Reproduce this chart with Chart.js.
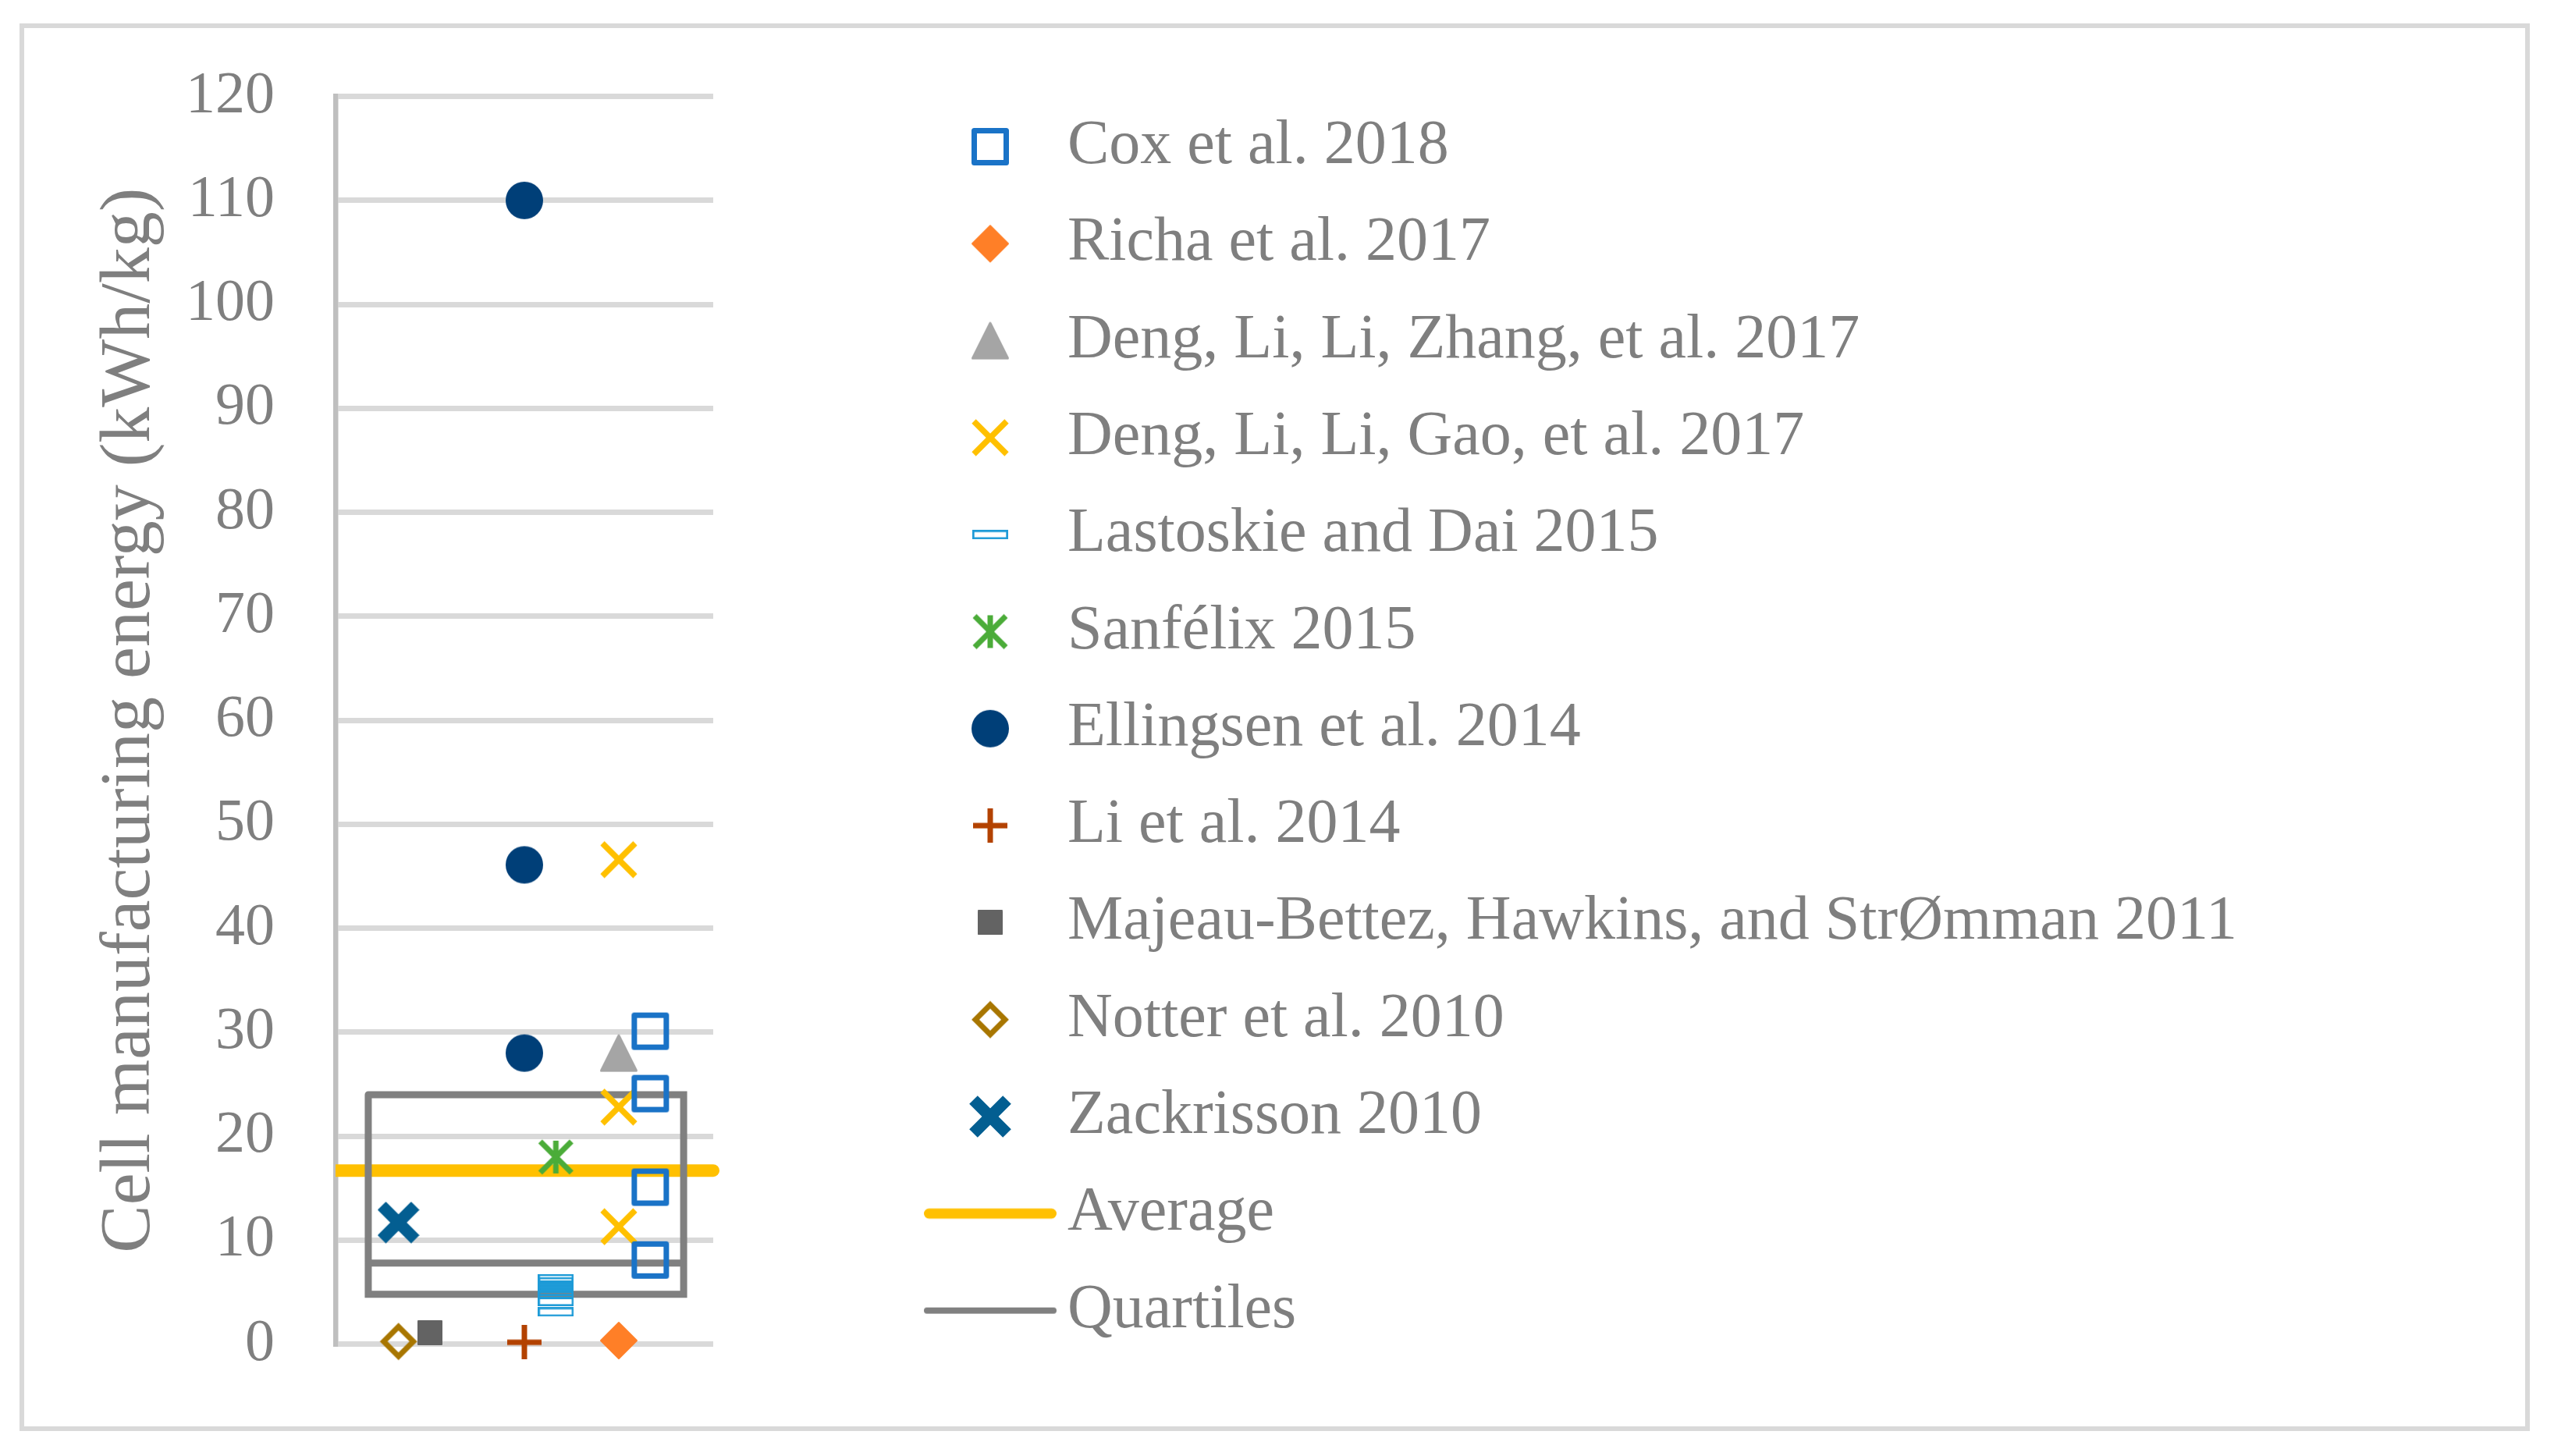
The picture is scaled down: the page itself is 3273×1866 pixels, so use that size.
<!DOCTYPE html>
<html><head><meta charset="utf-8">
<script src="https://cdn.jsdelivr.net/npm/chart.js@4.4.1/dist/chart.umd.min.js"></script>
<style>
html,body{margin:0;padding:0;background:#fff;width:3273px;height:1866px;overflow:hidden;}
#frame{position:absolute;left:24.7px;top:30.3px;width:3217.5px;height:1804.2px;border:6px solid #d9d9d9;box-sizing:border-box;}
#c{position:absolute;left:0;top:0;}
</style></head><body>
<div id="frame"></div>
<canvas id="c" width="3273" height="1866"></canvas>
<script>
// ---------- DATA ----------
const seriesLabels = ['Cox et al. 2018','Richa et al. 2017','Deng, Li, Li, Zhang, et al. 2017','Deng, Li, Li, Gao, et al. 2017','Lastoskie and Dai 2015','Sanfélix 2015','Ellingsen et al. 2014','Li et al. 2014','Majeau-Bettez, Hawkins, and StrØmman 2011','Notter et al. 2010','Zackrisson 2010'];
const seriesX = [5, 4.5, 4.5, 4.5, 3.5, 3.5, 3, 3, 1.5, 1, 1];
const coxValues = [30.1, 24.1, 15.1, 8.1];
const richaValues = [0.35];
const dengZhangValues = [28];
const dengGaoValues = [46.6, 22.8, 11.3];
const lastoskieValues = [6.3, 6.0, 5.7, 5.4, 5.1, 4.8, 4.1, 3.1];
const sanfelixValues = [18];
const ellingsenValues = [110, 46.1, 28];
const liValues = [0.18];
const majeauValues = [1.1];
const notterValues = [0.26];
const zackrissonValues = [11.7];
const averageValue = 16.7;
const averageX = [0, 6];
const quartileValues = [4.8, 7.8, 24.0]; // Q1, median, Q3
const quartileX = [0.52, 5.53];
const yTicks = {min: 0, max: 120, step: 10};
const yTitle = 'Cell manufacturing energy (kWh/kg)';

// ---------- STYLE ----------
const FAMILY = "'Liberation Serif', serif";
const TEXT = '#7f7f7f';
const colors = ['#1a73c7','#ff7f27','#a5a5a5','#ffc000','#1e9bd7','#4bac39','#003f78','#b34200','#636363','#a87600','#035e91'];

function mk(w, h, draw) {
  const c = document.createElement('canvas'); c.width = w; c.height = h;
  const g = c.getContext('2d'); draw(g); return c;
}
function line(g, a, b, c2, d) { g.beginPath(); g.moveTo(a, b); g.lineTo(c2, d); g.stroke(); }
const markerImgs = [
  mk(50, 50, g => { g.strokeStyle = colors[0]; g.lineWidth = 7; g.lineJoin = 'round'; g.strokeRect(4.5, 4.5, 41, 41); }),
  mk(50, 50, g => { g.fillStyle = g.strokeStyle = colors[1]; g.lineWidth = 2; g.lineJoin = 'round';
    g.beginPath(); g.moveTo(25, 2); g.lineTo(48, 25); g.lineTo(25, 48); g.lineTo(2, 25); g.closePath(); g.fill(); g.stroke(); }),
  mk(50, 50, g => { g.fillStyle = g.strokeStyle = colors[2]; g.lineWidth = 3; g.lineJoin = 'round';
    g.beginPath(); g.moveTo(25, 2.5); g.lineTo(47.5, 47.5); g.lineTo(2.5, 47.5); g.closePath(); g.fill(); g.stroke(); }),
  mk(50, 50, g => { g.strokeStyle = colors[3]; g.lineWidth = 7.5; g.lineCap = 'butt';
    line(g, 4, 4, 46, 46); line(g, 46, 4, 4, 46); }),
  mk(46, 12, g => { g.strokeStyle = colors[4]; g.lineWidth = 2.7; g.strokeRect(1.35, 1.35, 43.3, 9.3); }),
  mk(48, 48, g => { g.strokeStyle = colors[5]; g.lineWidth = 7; g.lineCap = 'butt';
    line(g, 24, 3, 24, 45); line(g, 4, 4, 44, 44); line(g, 44, 4, 4, 44); }),
  mk(50, 50, g => { g.fillStyle = colors[6]; g.beginPath(); g.arc(25, 25, 24, 0, Math.PI * 2); g.fill(); }),
  mk(44, 44, g => { g.strokeStyle = colors[7]; g.lineWidth = 7; line(g, 22, 0, 22, 44); line(g, 0, 22, 44, 22); }),
  mk(32, 32, g => { g.fillStyle = g.strokeStyle = colors[8]; g.lineWidth = 2; g.lineJoin = 'round'; g.fillRect(1, 1, 30, 30); g.strokeRect(1, 1, 30, 30); }),
  mk(50, 50, g => { g.strokeStyle = colors[9]; g.lineWidth = 7; g.lineJoin = 'miter';
    g.beginPath(); g.moveTo(25, 6); g.lineTo(44, 25); g.lineTo(25, 44); g.lineTo(6, 25); g.closePath(); g.stroke(); }),
  mk(54, 54, g => { g.strokeStyle = colors[10]; g.lineWidth = 15; g.lineCap = 'butt';
    line(g, 5.5, 5.5, 48.5, 48.5); line(g, 48.5, 5.5, 5.5, 48.5); })
];
const avgLegendImg = mk(172, 16, g => { g.strokeStyle = '#ffc000'; g.lineWidth = 13; g.lineCap = 'round'; line(g, 7.5, 8, 164.5, 8); });
const quartLegendImg = mk(172, 10, g => { g.strokeStyle = '#808080'; g.lineWidth = 8; g.lineCap = 'round'; line(g, 5, 5, 167, 5); });

// ---------- LAYOUT NUMBERS ----------
const W = 3273, H = 1866;
const AREA_LEFT = 430, AREA_RIGHT = 914, AREA_TOP = 122.7, AREA_BOTTOM = 1722.7;
const LEG_FS = 80, ROW = 124.3, LP = ROW - LEG_FS, BOXW = 198 - LEG_FS;
const MARK_X = 1269, FIRST_ROW_Y = 188;
const PT = FIRST_ROW_Y - LP - LEG_FS / 2, PB = 40;
const HT = AREA_TOP - PT, HB = H - PB - AREA_BOTTOM;
const LEG_LEFT = MARK_X - LP - BOXW / 2;
const GAP = LEG_LEFT - AREA_RIGHT;
const TITLE_FS = 92, TITLE_X = 167;
const TICK_FS = 76;
const L = TITLE_X - TITLE_FS * 1.2 / 2;
const meas = document.createElement('canvas').getContext('2d');
meas.font = 'normal ' + LEG_FS + 'px ' + FAMILY;
const allLabels = seriesLabels.concat(['Average', 'Quartiles']);
const maxText = Math.max(...allLabels.map(t => meas.measureText(t).width));
const legendW = LP + BOXW + LEG_FS / 2 + maxText + 10;
const PR = Math.max(0, W - AREA_RIGHT - GAP - legendW);

// ---------- DATASETS ----------
const valueLists = [coxValues, richaValues, dengZhangValues, dengGaoValues, lastoskieValues, sanfelixValues, ellingsenValues, liValues, majeauValues, notterValues, zackrissonValues];
const datasets = valueLists.map((vals, i) => ({
  label: seriesLabels[i],
  data: vals.map(v => ({x: seriesX[i], y: v})),
  pointStyle: markerImgs[i], pointRadius: 10, pointHoverRadius: 10,
  showLine: false, clip: false, order: 0, xAxisID: 'x', yAxisID: 'y'
}));
datasets.push({
  label: 'Average',
  data: averageX.map(x => ({x: x, y: averageValue})),
  showLine: true, borderColor: '#ffc000', borderWidth: 16, borderCapStyle: 'round',
  pointRadius: 0, clip: {left: 0, right: 20, top: 20, bottom: 20}, order: 2, xAxisID: 'x', yAxisID: 'y'
});
const [q1, q2, q3] = quartileValues, [bx0, bx1] = quartileX;
datasets.push({
  label: 'Quartiles',
  data: [{x: bx0, y: q3}, {x: bx1, y: q3}, {x: bx1, y: q1}, {x: bx0, y: q1}, {x: bx0, y: q3},
         {x: bx0, y: null}, {x: bx0, y: q2}, {x: bx1, y: q2}],
  showLine: true, spanGaps: false, borderColor: '#808080', borderWidth: 9,
  borderCapStyle: 'round', borderJoinStyle: 'miter',
  pointRadius: 0, clip: false, order: 1, xAxisID: 'x', yAxisID: 'y'
});
const legendImgs = markerImgs.concat([avgLegendImg, quartLegendImg]);

const hidden = (extra) => Object.assign({display: true, grid: {display: false, drawTicks: false}, border: {display: false}, ticks: {display: false}}, extra);

new Chart(document.getElementById('c'), {
  type: 'scatter',
  data: {datasets},
  options: {
    responsive: false, animation: false, devicePixelRatio: 1, events: [],
    layout: {autoPadding: false, padding: {left: L, top: PT, right: PR, bottom: PB}},
    scales: {
      x: hidden({type: 'linear', position: 'bottom', min: averageX[0], max: averageX[1], afterFit: s => { s.height = HB; }}),
      xTop: hidden({type: 'linear', position: 'top', afterFit: s => { s.height = HT; }}),
      y: {
        type: 'linear', position: 'left', min: yTicks.min, max: yTicks.max,
        ticks: {stepSize: yTicks.step, color: TEXT, font: {family: FAMILY, size: TICK_FS}, padding: 78},
        grid: {color: '#d9d9d9', lineWidth: 7, drawTicks: false},
        border: {display: true, color: '#bfbfbf', width: 6.5},
        title: {display: true, text: yTitle, color: TEXT, font: {family: FAMILY, size: TITLE_FS}, padding: {top: 0, bottom: 0}},
        afterFit: s => { s.width = AREA_LEFT - L; }
      },
      y2: hidden({type: 'linear', position: 'right', afterFit: s => { s.width = GAP; }})
    },
    plugins: {
      tooltip: {enabled: false},
      legend: {
        display: true, position: 'right', align: 'start', maxWidth: 5000,
        labels: {
          usePointStyle: true, pointStyleWidth: BOXW, padding: LP, color: TEXT,
          font: {family: FAMILY, size: LEG_FS},
          generateLabels: chart => chart.data.datasets.map((d, i) => ({
            text: d.label, pointStyle: legendImgs[i], fillStyle: 'rgba(0,0,0,0)', strokeStyle: 'rgba(0,0,0,0)',
            lineWidth: 0, hidden: false, datasetIndex: i, fontColor: TEXT, rotation: 0
          }))
        }
      }
    }
  }
});
</script>
</body></html>
